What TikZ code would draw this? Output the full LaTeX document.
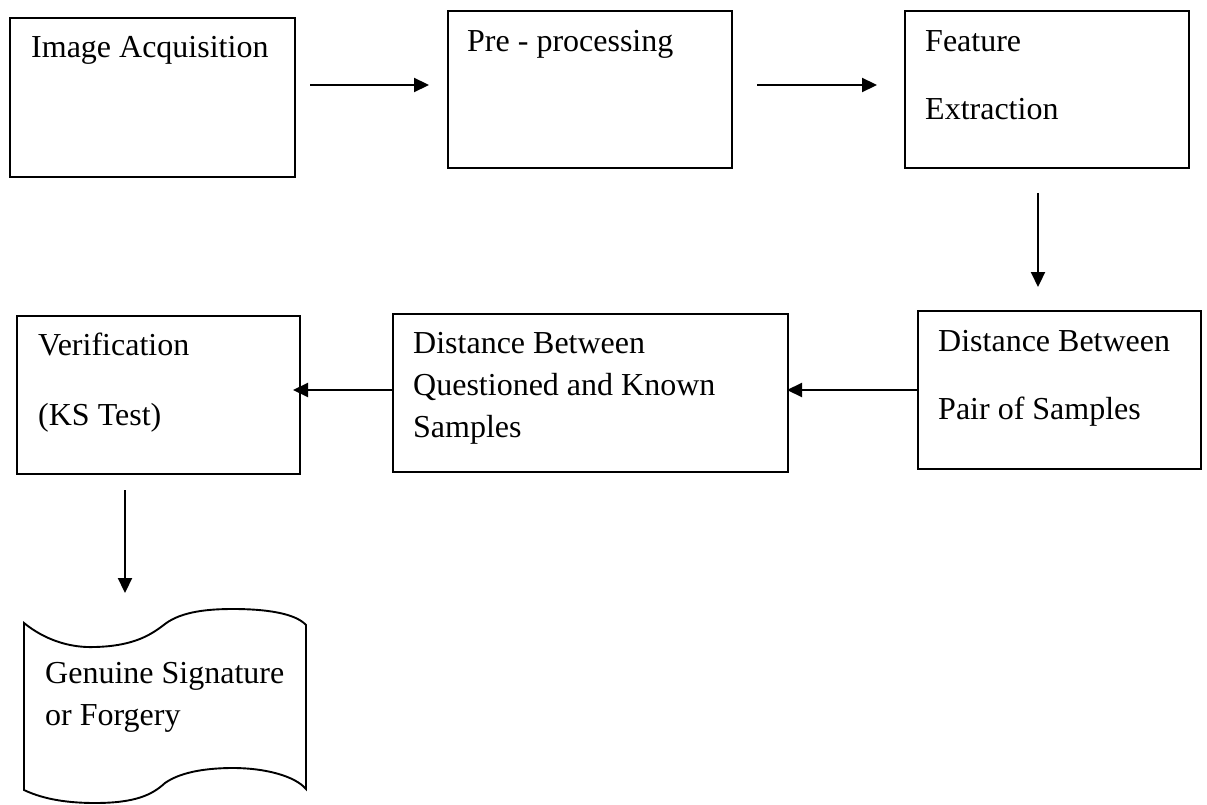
\documentclass[tikz,border=0pt]{standalone}
\usepackage{fontspec}
\setmainfont{Liberation Serif}
\usetikzlibrary{arrows.meta}
\begin{document}
\begin{tikzpicture}[x=1pt,y=-1pt,
  box/.style={draw, line width=1.9pt, anchor=north west, inner sep=0pt},
  lbl/.style={anchor=base west, inner sep=0pt, font=\fontsize{32}{38}\selectfont},
  arr/.style={line width=2.2pt, -{Triangle[length=15pt,width=14pt]}},
  tape/.style={draw, line width=1.9pt}]
\useasboundingbox (0,0) rectangle (1207,805);

% boxes
\node[box, minimum width=285pt, minimum height=159pt] (acq)  at (9,17)   {};
\node[box, minimum width=284pt, minimum height=157pt] (pre)  at (447,10) {};
\node[box, minimum width=284pt, minimum height=157pt] (feat) at (904,10) {};
\node[box, minimum width=283pt, minimum height=158pt] (pair) at (917,310) {};
\node[box, minimum width=395pt, minimum height=158pt] (qk)   at (392,313) {};
\node[box, minimum width=283pt, minimum height=158pt] (ver)  at (16,315) {};

% tape shape
\draw[tape] (24,623) .. controls (45,640) and (70,648) .. (95,647)
  .. controls (135,646) and (152,634) .. (165,624)
  .. controls (182,611) and (210,609) .. (233,609)
  .. controls (265,609) and (295,613) .. (306,625)
  -- (306,789)
  .. controls (295,776) and (265,768) .. (233,768)
  .. controls (210,768) and (182,771) .. (165,783)
  .. controls (152,795) and (135,803) .. (95,803)
  .. controls (70,803) and (45,800) .. (24,790) -- cycle;

% labels
\node[lbl] (tacq)  at (31,58)   {Image Acquisition};
\node[lbl] (tpre)  at (467,52)  {Pre - processing};
\node[lbl] (tfea1) at (925,52)  {Feature};
\node[lbl] (tfea2) at (925,120) {Extraction};
\node[lbl] (tpa1)  at (938,351) {Distance Between};
\node[lbl] (tpa2)  at (938,419) {Pair of Samples};
\node[lbl] (tqk1)  at (413,353) {Distance Between};
\node[lbl] (tqk2)  at (413,395) {Questioned and Known};
\node[lbl] (tqk3)  at (413,437) {Samples};
\node[lbl] (tve1)  at (38,355)  {Verification};
\node[lbl] (tve2)  at (38,425)  {(KS Test)};
\node[lbl] (tge1)  at (45,683)  {Genuine Signature};
\node[lbl] (tge2)  at (45,725)  {or Forgery};

% connectors
\coordinate (a1s) at (310,85);  \coordinate (a1e) at (429,85);
\coordinate (a2s) at (757,85);  \coordinate (a2e) at (877,85);
\coordinate (a3s) at (1038,193); \coordinate (a3e) at (1038,287);
\coordinate (a4s) at (917,390); \coordinate (a4e) at (787,390);
\coordinate (a5s) at (392,390); \coordinate (a5e) at (293,390);
\coordinate (a6s) at (125,490); \coordinate (a6e) at (125,593);
\draw[arr] (a1s) -- (a1e);
\draw[arr] (a2s) -- (a2e);
\draw[arr] (a3s) -- (a3e);
\draw[arr] (a4s) -- (a4e);
\draw[arr] (a5s) -- (a5e);
\draw[arr] (a6s) -- (a6e);
\end{tikzpicture}
\end{document}
